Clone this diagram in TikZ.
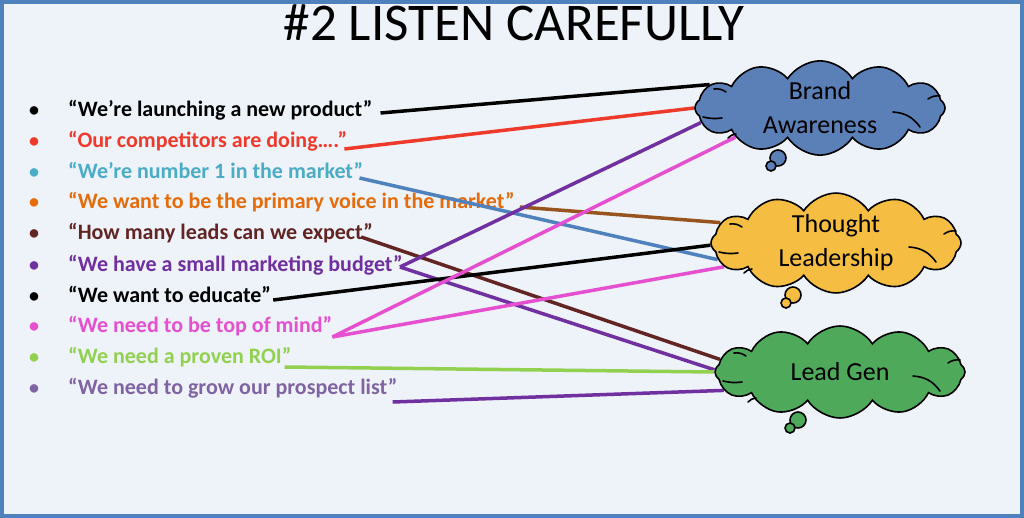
\documentclass[tikz,border=0pt]{standalone}
\usepackage{fontspec}
\setmainfont{Carlito}
\usetikzlibrary{shapes.symbols}

\definecolor{frameblue}{HTML}{4F81BD}
\definecolor{paper}{HTML}{EEF2F9}
\definecolor{qred}{HTML}{EE3A2A}
\definecolor{qcyan}{HTML}{4BACC6}
\definecolor{qorange}{HTML}{E46C0A}
\definecolor{qmaroon}{HTML}{632523}
\definecolor{qpurple}{HTML}{7030A0}
\definecolor{qpink}{HTML}{E450D0}
\definecolor{qgreen}{HTML}{92D050}
\definecolor{qlilac}{HTML}{8064A2}
\definecolor{lbrown}{HTML}{98541F}
\definecolor{cloudblue}{HTML}{5B80B8}
\definecolor{cloudyellow}{HTML}{F5BE42}
\definecolor{cloudgreen}{HTML}{4EAA5A}

\pgfdeclarelayer{bg}
\pgfdeclarelayer{links}
\pgfdeclarelayer{front}
\pgfsetlayers{bg,main,links,front}

% inner strokes of a thought cloud, drawn round its centre
\newcommand{\cloudstrokes}[1]{%
  \begin{scope}[shift={(#1.center)},line width=1.6pt,line cap=round]
    \draw (-106,-19) to[bend left=20] (-94,-16);
    \draw (-117,9) to[bend right=10] (-98,10);
    \draw (-92,30) to[bend left=20] (-84,26);
    \draw (108,-9) to[bend left=20] (120,-12);
    \draw (73,4) to[bend left=25] (100,19);
  \end{scope}}

\begin{document}
\begin{tikzpicture}[x=1pt,y=-1pt]
        \tikzstyle{quote}=[anchor=base west,inner sep=0pt,font=\bfseries\fontsize{22}{22}\selectfont]
        \tikzstyle{dot}=[anchor=base,inner sep=0pt,font=\bfseries\fontsize{20}{20}\selectfont]
        \tikzstyle{idea}=[cloud,draw=black,line width=1.6pt,cloud puffs=12,cloud puff arc=115,cloud ignores aspect,minimum width=250pt,minimum height=92pt,align=center,font=\fontsize{26}{34}\selectfont,inner sep=0pt]
        \tikzstyle{link}=[line width=3.5pt]
        \tikzstyle{bubble}=[draw=black,line width=1.6pt]
       \useasboundingbox (0,0) rectangle (1024,518);
       \begin{pgfonlayer}{bg}
         \draw[line width=4pt,draw=frameblue,fill=paper] (2,2) rectangle (1022,516);
       \end{pgfonlayer}

         \node [anchor=base,inner sep=0pt,font=\fontsize{53}{53}\selectfont] (title) at (514,41) {\#2 LISTEN CAREFULLY};

         % what the client says
         \node [dot] (b1) at (34,117) {•};
         \node [quote] (q1) at (68,117) {“We’re launching a new product”};
         \node [dot,qred] (b2) at (34,148) {•};
         \node [quote,qred] (q2) at (68,148) {“Our competitors are doing….”};
         \node [dot,qcyan] (b3) at (34,179) {•};
         \node [quote,qcyan] (q3) at (68,179) {“We’re number 1 in the market”};
         \node [dot,qorange] (b4) at (34,209) {•};
         \node [quote,qorange] (q4) at (68,209) {“We want to be the primary voice in the market”};
         \node [dot,qmaroon] (b5) at (34,240) {•};
         \node [quote,qmaroon] (q5) at (68,240) {“How many leads can we expect”};
         \node [dot,qpurple] (b6) at (34,272) {•};
         \node [quote,qpurple] (q6) at (68,272) {“We have a small marketing budget”};
         \node [dot] (b7) at (34,302) {•};
         \node [quote] (q7) at (68,302) {“We want to educate”};
         \node [dot,qpink] (b8) at (34,332) {•};
         \node [quote,qpink] (q8) at (68,332) {“We need to be top of mind”};
         \node [dot,qgreen] (b9) at (34,363) {•};
         \node [quote,qgreen] (q9) at (68,363) {“We need a proven ROI”};
         \node [dot,qlilac] (b10) at (34,394) {•};
         \node [quote,qlilac] (q10) at (68,394) {“We need to grow our prospect list”};

       \begin{pgfonlayer}{front}
         \node [idea,fill=cloudblue] (brand) at (820,108) {Brand\\Awareness};
         \node [idea,fill=cloudyellow] (thought) at (836,243) {Thought\\Leadership};
         \node [idea,fill=cloudgreen] (lead) at (840,372) {Lead Gen};
         \cloudstrokes{brand}
         \cloudstrokes{thought}
         \cloudstrokes{lead}
         \draw [bubble,fill=cloudblue] (778,158) circle (8);
         \draw [bubble,fill=cloudblue] (771,166) circle (5);
         \draw [bubble,fill=cloudyellow] (793,295) circle (8);
         \draw [bubble,fill=cloudyellow] (786,303) circle (5);
         \draw [bubble,fill=cloudgreen] (798,420) circle (8);
         \draw [bubble,fill=cloudgreen] (790,428) circle (5);
       \end{pgfonlayer}

       \begin{pgfonlayer}{links}
         \path[link,draw=black] ([xshift=8pt,yshift=4pt]q1.base east) -- (brand.168);
         \path[link,draw=qred] ([xshift=-3pt,yshift=-1pt]q2.base east) -- (brand.180);
         \path[link,draw=frameblue] ([xshift=-4pt,yshift=1pt]q3.base east) -- (thought.188);
         \path[link,draw=lbrown] ([xshift=5pt,yshift=2pt]q4.base east) -- (thought.170);
         \path[link,draw=qmaroon] ([xshift=-12pt,yshift=3pt]q5.base east) -- (lead.174);
         \path[link,draw=qpurple] ([xshift=-3pt,yshift=5pt]q6.base east) -- (brand.187);
         \path[link,draw=qpurple] ([xshift=-3pt,yshift=5pt]q6.base east) -- (lead.179);
         \path[link,draw=black] ([xshift=2pt,yshift=2pt]q7.base east) -- (thought.181);
         \path[link,draw=qpink] ([yshift=-5pt]q8.base east) -- (brand.199);
         \path[link,draw=qpink] ([yshift=-5pt]q8.base east) -- (thought.192);
         \path[link,draw=qgreen] ([xshift=-7pt,yshift=-4pt]q9.base east) -- (lead.180);
         \path[link,draw=qpurple] ([xshift=-5pt,yshift=-8pt]q10.base east) -- (lead.189);
       \end{pgfonlayer}
      \end{tikzpicture}
\end{document}
